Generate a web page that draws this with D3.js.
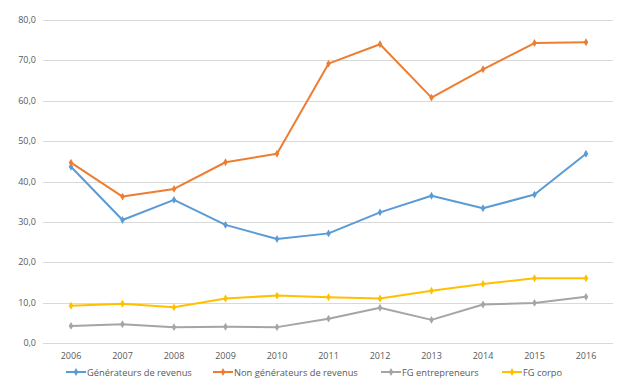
<!DOCTYPE html>
<html>
<head>
<meta charset="utf-8">
<script src="https://cdn.jsdelivr.net/npm/d3@7"></script>
<style>
  body { margin: 0; background: #fff; }
  text { font-family: "Open Sans", "Liberation Sans", sans-serif; fill: #595959; }
</style>
</head>
<body>
<svg id="chart"></svg>
<script>
const WIDTH = 621;
const HEIGHT = 385;

// values
const years = ['2006', '2007', '2008', '2009', '2010', '2011', '2012', '2013', '2014', '2015', '2016'];
const generateurs = [43.7, 30.5, 35.5, 29.3, 25.8, 27.2, 32.4, 36.5, 33.4, 36.8, 46.9];
const nonGenerateurs = [44.7, 36.3, 38.2, 44.8, 46.9, 69.2, 74.0, 60.8, 67.8, 74.3, 74.5];
const fgEntrepreneurs = [4.3, 4.7, 4.0, 4.1, 4.0, 6.1, 8.8, 5.8, 9.6, 10.0, 11.5];
const fgCorpo = [9.3, 9.8, 8.9, 11.1, 11.8, 11.4, 11.1, 13.0, 14.7, 16.1, 16.1];
const yTicks = [0, 10, 20, 30, 40, 50, 60, 70, 80];

const series = [
  {name: 'Générateurs de revenus', values: generateurs, color: '#5B9BD5'},
  {name: 'Non générateurs de revenus', values: nonGenerateurs, color: '#ED7D31'},
  {name: 'FG entrepreneurs', values: fgEntrepreneurs, color: '#A5A5A5'},
  {name: 'FG corpo', values: fgCorpo, color: '#FFC000'}
];

const svg = d3.select('#chart')
  .attr('width', WIDTH)
  .attr('height', HEIGHT);

const x = d3.scalePoint()
  .domain(years)
  .range([71, 586]);

const y = d3.scaleLinear()
  .domain([0, 80])
  .range([343.3, 20]);

// gridlines
svg.append('g')
  .selectAll('line')
  .data(yTicks)
  .join('line')
  .attr('x1', 43)
  .attr('x2', 613)
  .attr('y1', d => Math.round(y(d)) + 0.5)
  .attr('y2', d => Math.round(y(d)) + 0.5)
  .attr('stroke', '#D9D9D9')
  .attr('stroke-width', 1);

// y tick labels
const fmt = d => d3.format('.1f')(d).replace('.', ',');
svg.append('g')
  .selectAll('text')
  .data(yTicks)
  .join('text')
  .attr('x', 36)
  .attr('y', d => y(d) + 3)
  .attr('text-anchor', 'end')
  .style('font-size', '9px')
  .text(fmt);

// x labels
svg.append('g')
  .selectAll('text')
  .data(years)
  .join('text')
  .attr('x', d => x(d))
  .attr('y', 359)
  .attr('text-anchor', 'middle')
  .style('font-size', '9px')
  .text(d => d);

const line = d3.line()
  .x((d, i) => x(years[i]))
  .y(d => y(d));

const diamond = d3.symbol().type(d3.symbolDiamond).size(18);

series.forEach(s => {
  svg.append('path')
    .datum(s.values)
    .attr('d', line)
    .attr('fill', 'none')
    .attr('stroke', s.color)
    .attr('stroke-width', 2)
    .attr('stroke-linejoin', 'round');

  svg.append('g')
    .selectAll('path')
    .data(s.values)
    .join('path')
    .attr('transform', (d, i) => `translate(${x(years[i])},${y(d)})`)
    .attr('d', diamond)
    .attr('fill', s.color);
});

// legend
const legendX = [66, 213, 381, 502];
const legend = svg.append('g')
  .selectAll('g')
  .data(series)
  .join('g')
  .attr('transform', (d, i) => `translate(${legendX[i]},372)`);

legend.append('line')
  .attr('x1', 0)
  .attr('x2', 20)
  .attr('stroke', d => d.color)
  .attr('stroke-width', 2);

legend.append('path')
  .attr('transform', 'translate(10,0)')
  .attr('d', diamond)
  .attr('fill', d => d.color);

legend.append('text')
  .attr('x', 21)
  .attr('y', 3.5)
  .style('font-size', '9.3px')
  .text(d => d.name);
</script>
</body>
</html>
